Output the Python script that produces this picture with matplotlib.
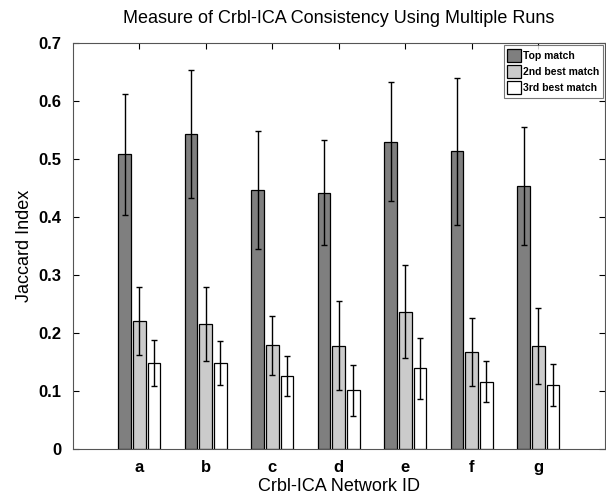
import numpy as np
import matplotlib
matplotlib.use("Agg")
import matplotlib.pyplot as plt

plt.rcParams['font.family'] = ['Liberation Sans', 'DejaVu Sans']

networks = ['a', 'b', 'c', 'd', 'e', 'f', 'g']
top_match = [0.508, 0.543, 0.447, 0.442, 0.530, 0.513, 0.453]
top_err = [0.104, 0.110, 0.102, 0.090, 0.102, 0.127, 0.102]
second_match = [0.221, 0.215, 0.179, 0.178, 0.237, 0.167, 0.178]
second_err = [0.058, 0.064, 0.051, 0.077, 0.080, 0.059, 0.065]
third_match = [0.148, 0.149, 0.126, 0.101, 0.139, 0.116, 0.111]
third_err = [0.040, 0.038, 0.035, 0.044, 0.052, 0.035, 0.036]
series_names = ['Top match', '2nd best match', '3rd best match']

fig = plt.figure(figsize=(6.06, 4.99), dpi=100)
ax = fig.add_axes([0.12, 0.10, 0.878, 0.814])

x = np.arange(1, len(networks) + 1)
w = 0.19
offs = [-0.22, 0.0, 0.22]
cols = ['#7f7f7f', '#cbcbcb', 'white']
data = [(top_match, top_err), (second_match, second_err), (third_match, third_err)]
for k in range(3):
	vals, errs = data[k]
	ax.bar(x + offs[k], vals, w, color=cols[k], edgecolor='black', linewidth=0.9,
		label=series_names[k], zorder=2)
	ax.errorbar(x + offs[k], vals, yerr=errs, fmt='none', ecolor='black',
		elinewidth=1.0, capsize=2.5, capthick=1.0, zorder=3)

ax.set_xlim(0, 8)
ax.set_ylim(0, 0.7)
ax.set_xticks(x)
ax.set_xticklabels(networks, fontweight='bold', fontsize=12)
ax.set_yticks(np.arange(0, 0.71, 0.1))
ax.set_yticklabels(['0', '0.1', '0.2', '0.3', '0.4', '0.5', '0.6', '0.7'], fontweight='bold', fontsize=12)
ax.tick_params(direction='in', top=True, right=True, length=4, width=0.8, pad=8)
for s in ax.spines.values():
	s.set_linewidth(0.8)
	s.set_color('#555555')

ax.set_title("Measure of Crbl-ICA Consistency Using Multiple Runs", fontsize=13, pad=14)
ax.set_xlabel("Crbl-ICA Network ID", fontsize=13, labelpad=2)
ax.set_ylabel("Jaccard Index", fontsize=13, labelpad=4)

leg = ax.legend(loc='upper right', prop={'weight': 'bold', 'size': 7.5},
	fancybox=False, edgecolor='#555555', handlelength=1.3, handleheight=1.6,
	handletextpad=0.2, borderpad=0.35, labelspacing=0.25, borderaxespad=0.2)
leg.get_frame().set_linewidth(0.8)

fig.savefig('out.png', dpi=100)
